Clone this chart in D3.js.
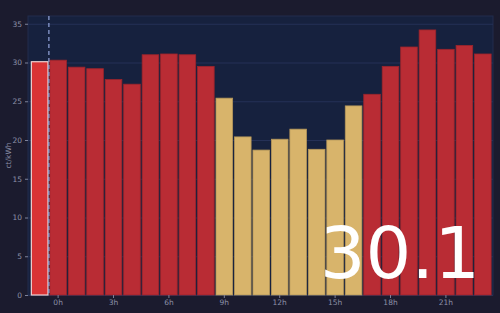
<!DOCTYPE html>
<html>
<head>
<meta charset="utf-8">
<script src="https://cdn.jsdelivr.net/npm/d3@7"></script>
<style>
  html, body { margin: 0; padding: 0; background: #1b1b2e; }
  svg { display: block; font-family: "DejaVu Sans", sans-serif; }
</style>
</head>
<body>
<div id="vis"></div>
<script>
// hourly prices, first bar is the previous hour (current)
var hours = [-1, 0, 1, 2, 3, 4, 5, 6, 7, 8, 9, 10, 11, 12, 13, 14, 15, 16, 17, 18, 19, 20, 21, 22, 23];
var prices = [30.1, 30.3, 29.4, 29.2, 27.8, 27.2, 31.0, 31.1, 31.0, 29.5, 25.4, 20.4, 18.7, 20.1, 21.4, 18.8, 20.0, 24.4, 25.9, 29.5, 32.0, 34.2, 31.7, 32.2, 31.1];
var levels = ['high', 'high', 'high', 'high', 'high', 'high', 'high', 'high', 'high', 'high', 'low', 'low', 'low', 'low', 'low', 'low', 'low', 'low', 'high', 'high', 'high', 'high', 'high', 'high', 'high'];
var yTicks = [0, 5, 10, 15, 20, 25, 30, 35];
var xTicks = [0, 3, 6, 9, 12, 15, 18, 21];
var currentHour = -1;
var currentPrice = '30.1';

var width = 500, height = 313;
var margin = { top: 16, right: 7, bottom: 18, left: 28 };

var svg = d3.select('#vis').append('svg')
  .attr('width', width)
  .attr('height', height);

var x = d3.scaleBand()
  .domain(hours)
  .range([margin.left + 1.5, width - margin.right])
  .paddingInner(0.1)
  .paddingOuter(0.1);

var y = d3.scaleLinear()
  .domain([0, 36])
  .range([height - margin.bottom, margin.top]);

var fillColor = d3.scaleOrdinal()
  .domain(['high', 'low'])
  .range(['#b92c34', '#d8b46b']);

// plot background
svg.append('rect')
  .attr('x', margin.left)
  .attr('y', margin.top)
  .attr('width', width - margin.left - margin.right)
  .attr('height', height - margin.top - margin.bottom)
  .attr('fill', '#16213e')
  .attr('stroke', '#222c4c')
  .attr('stroke-width', 1);

// grid
svg.append('g').selectAll('line')
  .data(yTicks)
  .enter().append('line')
  .attr('x1', margin.left)
  .attr('x2', width - margin.right)
  .attr('y1', function (d) { return y(d) + 0.5; })
  .attr('y2', function (d) { return y(d) + 0.5; })
  .attr('stroke', '#253157')
  .attr('stroke-width', 1);

// bars
svg.append('g').selectAll('rect')
  .data(hours)
  .enter().append('rect')
  .attr('x', function (d) { return x(d); })
  .attr('y', function (d, i) { return y(prices[i]); })
  .attr('width', x.bandwidth())
  .attr('height', function (d, i) { return y(0) - y(prices[i]); })
  .attr('fill', function (d, i) { return d === currentHour ? '#d93335' : fillColor(levels[i]); })
  .attr('stroke', function (d, i) {
    if (d === currentHour) return '#efd3d3';
    return d3.rgb(fillColor(levels[i])).darker(0.5);
  })
  .attr('stroke-width', function (d) { return d === currentHour ? 1.2 : 0.8; });

// marker between current and next hour
var markX = x(0) - x.step() * x.paddingInner() / 2;
svg.append('line')
  .attr('x1', markX)
  .attr('x2', markX)
  .attr('y1', margin.top)
  .attr('y2', y(0))
  .attr('stroke', '#93a6dc')
  .attr('stroke-width', 1.2)
  .attr('stroke-dasharray', '4,3');

// axes
var yAxis = svg.append('g')
  .attr('transform', 'translate(' + margin.left + ',0)')
  .call(d3.axisLeft(y).tickValues(yTicks).tickSize(3).tickPadding(3));

var xAxis = svg.append('g')
  .attr('transform', 'translate(0,' + y(0) + ')')
  .call(d3.axisBottom(x).tickValues(xTicks).tickSize(3).tickPadding(2)
    .tickFormat(function (d) { return d + 'h'; }));

[yAxis, xAxis].forEach(function (a) {
  a.select('.domain').remove();
  a.selectAll('line').attr('stroke', '#7d8299');
  a.selectAll('text').attr('fill', '#8d91a8').style('font-size', '7.5px').style('font-family', '"DejaVu Sans", sans-serif');
});

svg.append('text')
  .attr('transform', 'translate(11,' + ((margin.top + y(0)) / 2) + ') rotate(-90)')
  .attr('text-anchor', 'middle')
  .attr('fill', '#8d91a8')
  .style('font-size', '7.5px')
  .text('ct/kWh');

// big current price
svg.append('text')
  .attr('x', 480)
  .attr('y', 278)
  .attr('text-anchor', 'end')
  .attr('fill', '#ffffff')
  .style('font-size', '72px')
  .text(currentPrice);
</script>
</body>
</html>
